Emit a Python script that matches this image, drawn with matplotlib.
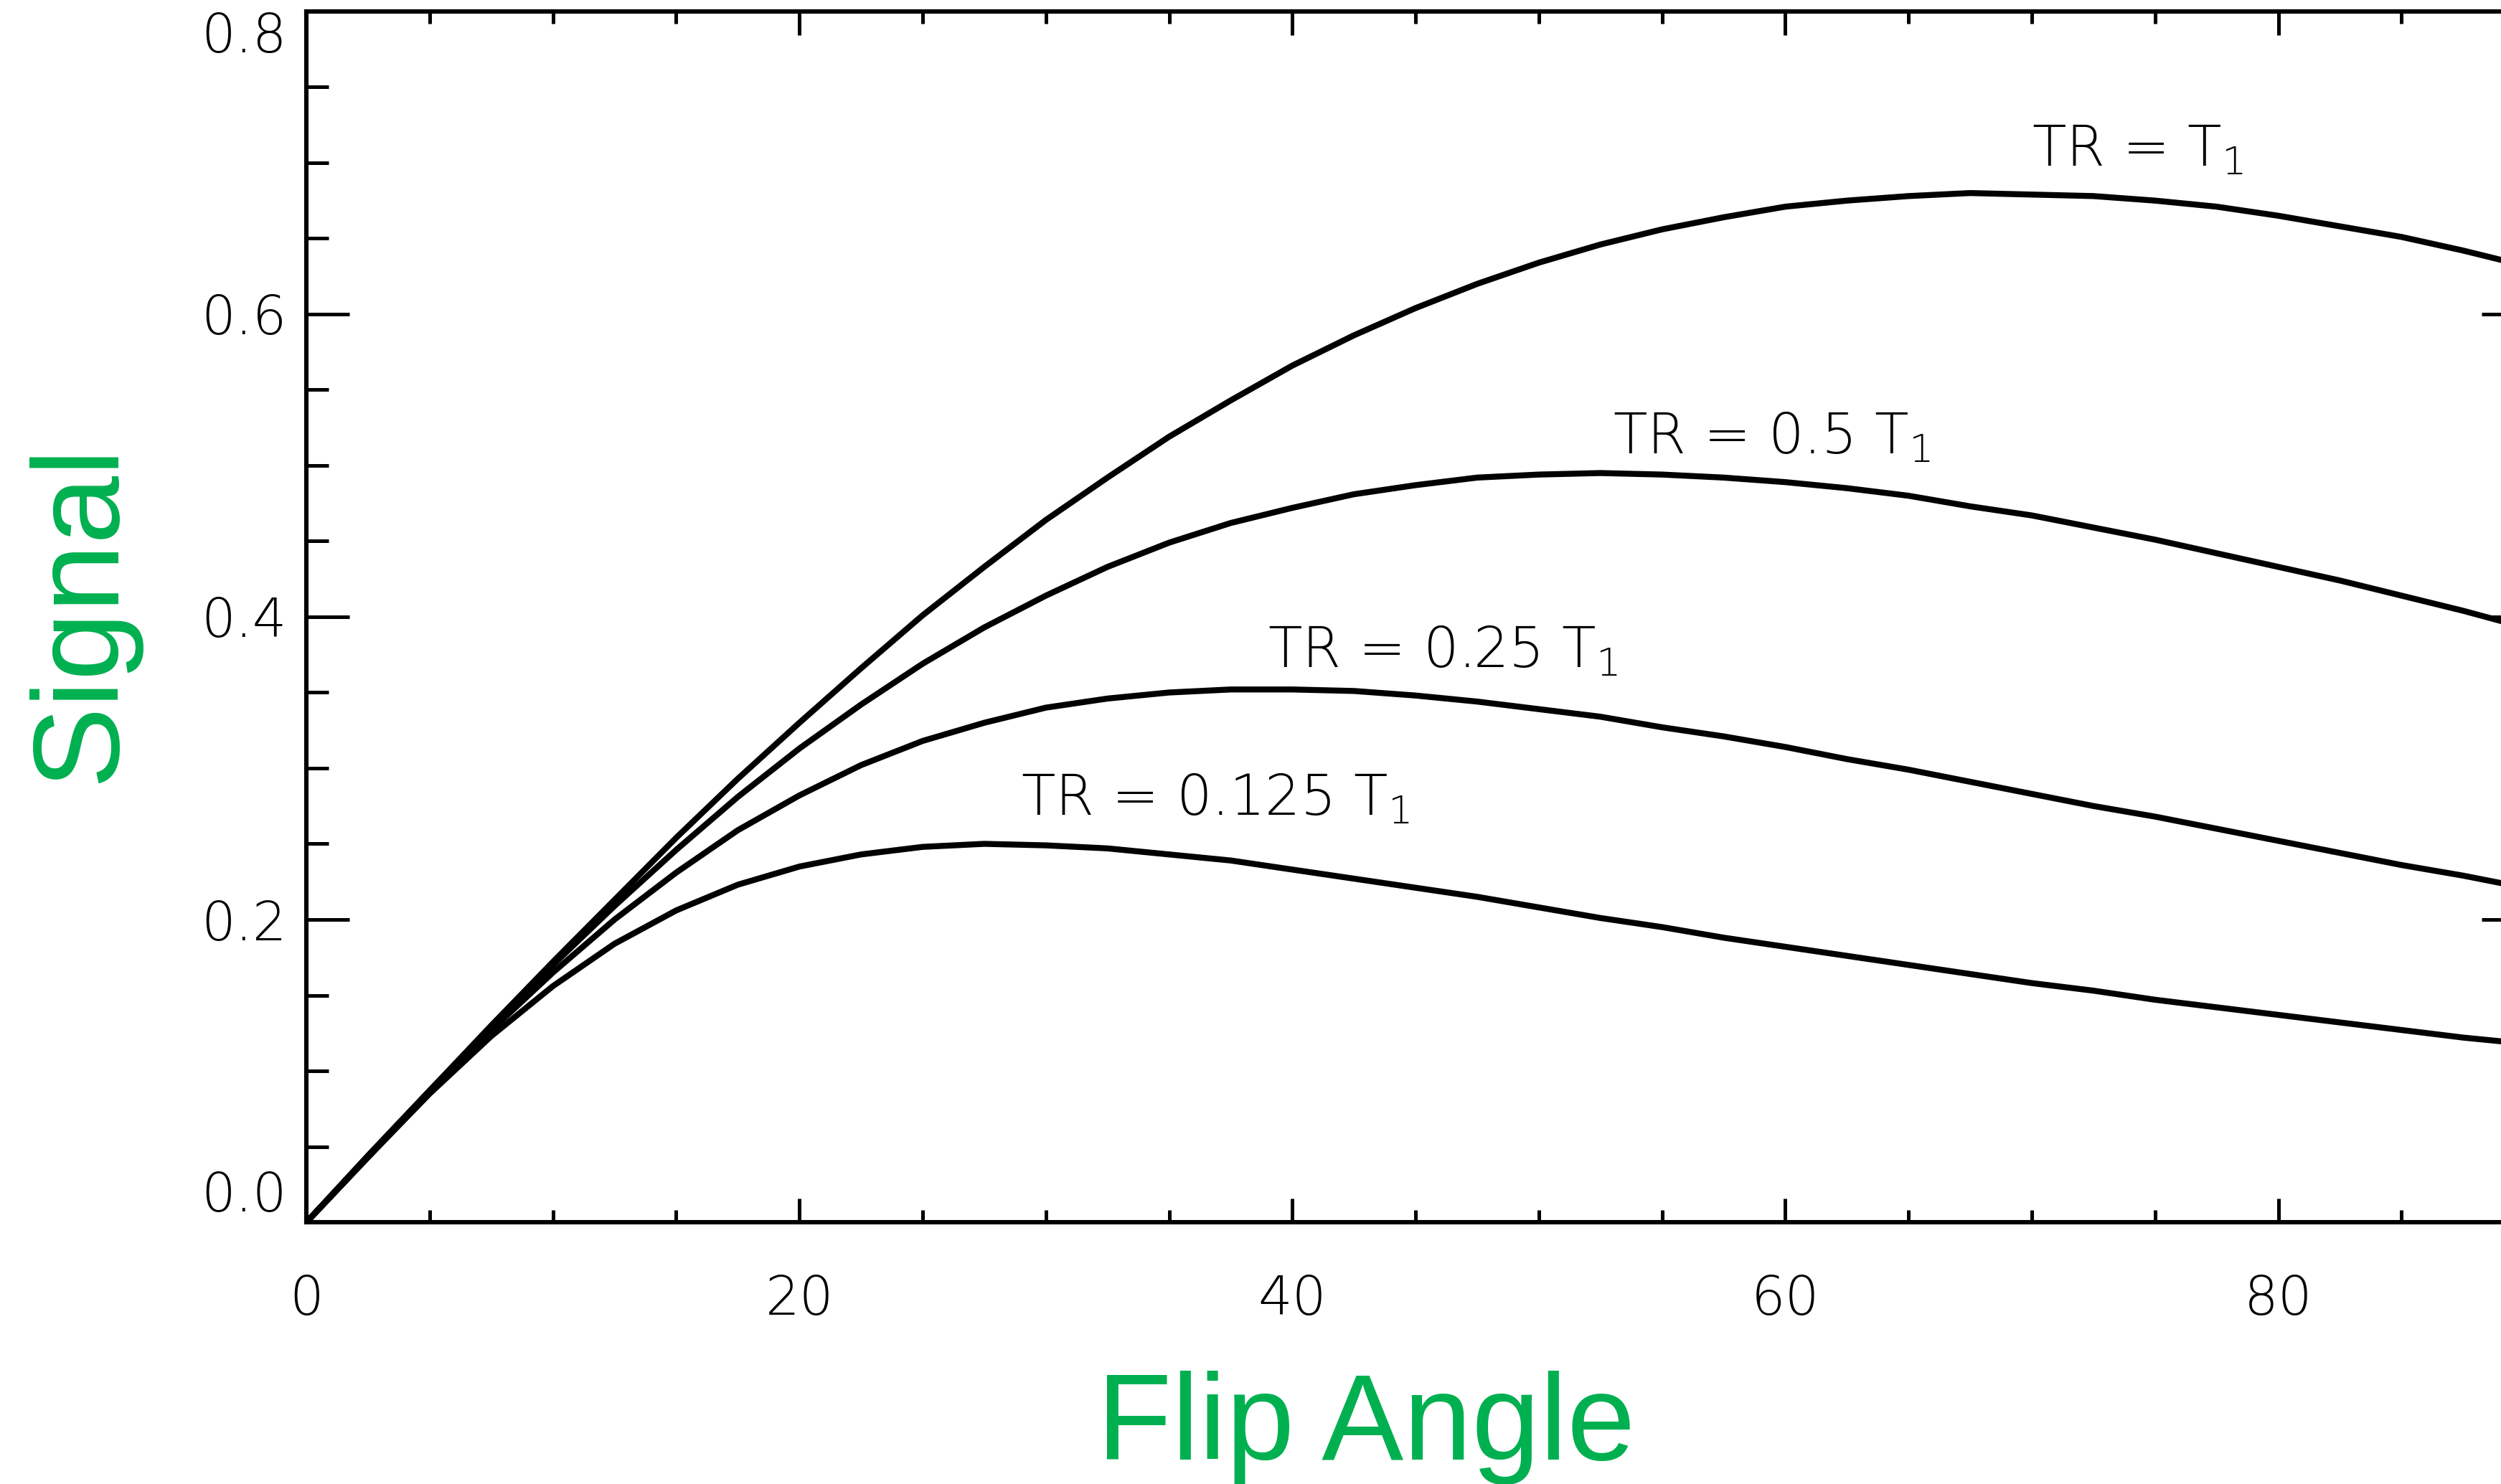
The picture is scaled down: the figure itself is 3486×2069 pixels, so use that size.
import matplotlib
matplotlib.use("Agg")
import matplotlib.pyplot as plt
from matplotlib.ticker import MultipleLocator

# flip angle (degrees) and signal, one list per TR
flip = [0, 2.5, 5, 7.5, 10, 12.5, 15, 17.5, 20, 22.5, 25, 27.5, 30, 32.5, 35,
        37.5, 40, 42.5, 45, 47.5, 50, 52.5, 55, 57.5, 60, 62.5, 65, 67.5, 70,
        72.5, 75, 77.5, 80, 82.5, 85, 87.5, 90]

sig_tr1 = [0.0, 0.044, 0.087, 0.130, 0.172, 0.213, 0.254, 0.293, 0.330, 0.366,
           0.401, 0.433, 0.464, 0.492, 0.519, 0.543, 0.566, 0.586, 0.604, 0.620,
           0.634, 0.646, 0.656, 0.664, 0.671, 0.675, 0.678, 0.680, 0.679, 0.678,
           0.675, 0.671, 0.665, 0.658, 0.651, 0.642, 0.632]
sig_tr05 = [0.0, 0.044, 0.087, 0.129, 0.170, 0.209, 0.246, 0.281, 0.313, 0.342,
            0.369, 0.393, 0.414, 0.433, 0.449, 0.462, 0.472, 0.481, 0.487, 0.492,
            0.494, 0.495, 0.494, 0.492, 0.489, 0.485, 0.480, 0.473, 0.467, 0.459,
            0.451, 0.442, 0.433, 0.424, 0.414, 0.404, 0.393]
sig_tr025 = [0.0, 0.043, 0.086, 0.127, 0.165, 0.200, 0.231, 0.259, 0.282, 0.302,
             0.318, 0.330, 0.340, 0.346, 0.350, 0.352, 0.352, 0.351, 0.348, 0.344,
             0.339, 0.334, 0.327, 0.321, 0.314, 0.306, 0.299, 0.291, 0.283, 0.275,
             0.268, 0.260, 0.252, 0.244, 0.236, 0.229, 0.221]
sig_tr0125 = [0.0, 0.043, 0.085, 0.123, 0.156, 0.184, 0.206, 0.223, 0.235, 0.243,
              0.248, 0.250, 0.249, 0.247, 0.243, 0.239, 0.233, 0.227, 0.221, 0.215,
              0.208, 0.201, 0.195, 0.188, 0.182, 0.176, 0.170, 0.164, 0.158, 0.153,
              0.147, 0.142, 0.137, 0.132, 0.127, 0.122, 0.118]

curves = [sig_tr1, sig_tr05, sig_tr025, sig_tr0125]
labels = [r"TR = T$_1$", r"TR = 0.5 T$_1$", r"TR = 0.25 T$_1$", r"TR = 0.125 T$_1$"]
label_x = [70.0, 53.0, 39.0, 29.0]
label_y = [0.698, 0.508, 0.367, 0.269]

xticks = [0, 20, 40, 60, 80]
yticks = [0.0, 0.2, 0.4, 0.6, 0.8]

green = "#00B050"

# subscripts follow the surrounding (light) text font
plt.rcParams["mathtext.default"] = "regular"

fig = plt.figure(figsize=(17.435, 10.345), dpi=200)
ax = fig.add_axes([0.1225, 0.1764, 0.8867, 0.8159])

for s in curves:
    ax.plot(flip, s, color="black", lw=3.0, solid_joinstyle="round")

for txt, x, y in zip(labels, label_x, label_y):
    ax.text(x, y, txt, fontsize=28, fontweight="light", ha="left", va="baseline")

ax.set_xlim(0, 90)
ax.set_ylim(0, 0.8)
ax.set_xticks(xticks)
ax.set_yticks(yticks)
ax.set_xticklabels([str(t) for t in xticks])
ax.set_yticklabels([f"{t:.1f}" for t in yticks])
ax.xaxis.set_minor_locator(MultipleLocator(5))
ax.yaxis.set_minor_locator(MultipleLocator(0.05))

for sp in ax.spines.values():
    sp.set_linewidth(2.2)

ax.tick_params(axis="x", which="major", direction="in", length=12, width=1.8,
               top=True, pad=26, labelsize=27)
ax.tick_params(axis="x", which="minor", direction="in", length=6, width=1.8, top=True)
ax.tick_params(axis="y", which="major", direction="in", length=21.5, width=1.8,
               right=True, pad=10, labelsize=27)
ax.tick_params(axis="y", which="minor", direction="in", length=11, width=1.8, right=True)
for lab in ax.get_xticklabels() + ax.get_yticklabels():
    lab.set_fontweight("light")

# IDL nudges the end labels inward
ylabs = ax.get_yticklabels()
ylabs[0].set_va("bottom")
ylabs[-1].set_va("top")

fig.text(0.0453, 0.5872, "Signal", color=green, fontsize=61.5, family="Liberation Sans",
         rotation=90, rotation_mode="anchor", ha="center", va="baseline")
fig.text(0.546, 0.0164, "Flip Angle", color=green, fontsize=61.5, family="Liberation Sans",
         ha="center", va="baseline")

fig.savefig("out.png", dpi=200)
